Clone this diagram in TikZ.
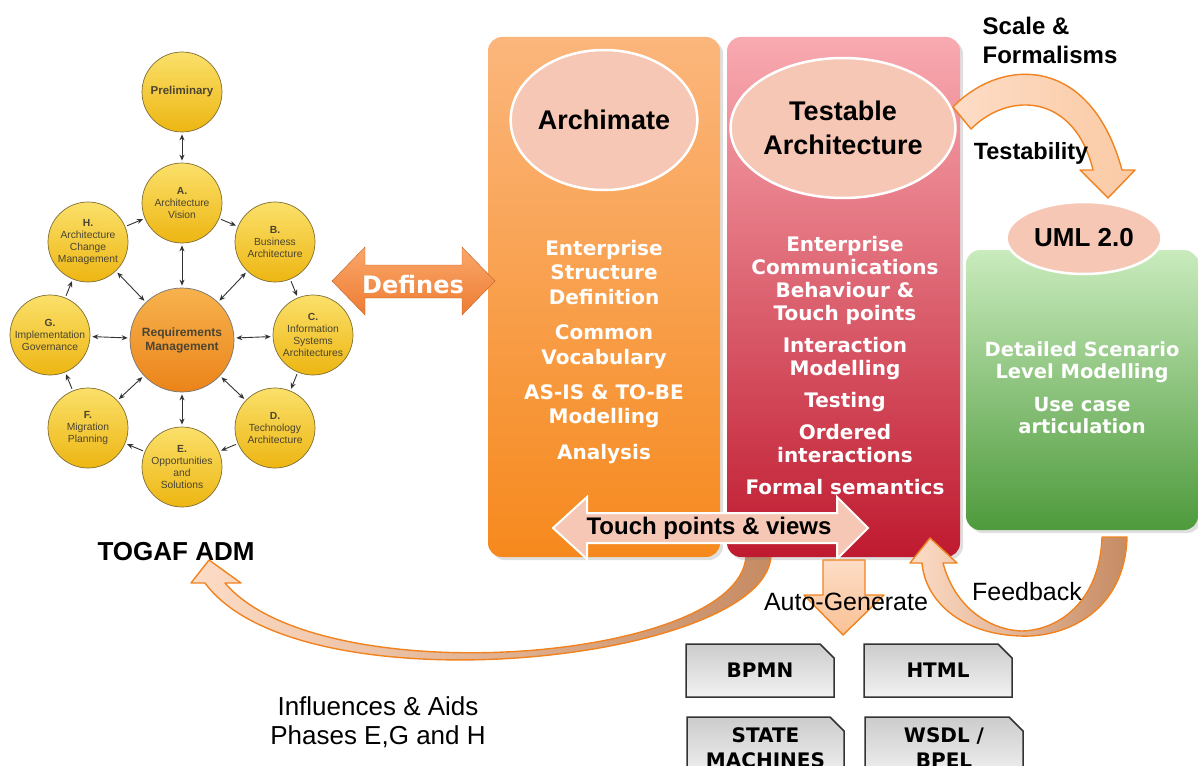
\documentclass[tikz,border=0pt]{standalone}
\usepackage{fontspec}
\setmainfont{Liberation Sans}
\newfontfamily\vfont{DejaVu Sans}
\usetikzlibrary{arrows.meta,shapes.geometric,shapes.misc,shadows}
\definecolor{yellt}{HTML}{FBE06A}
\definecolor{yeldk}{HTML}{EDB612}
\definecolor{yelbd}{HTML}{7E6C34}
\definecolor{rmlt}{HTML}{F7B24E}
\definecolor{rmdk}{HTML}{EB8419}
\definecolor{ortop}{HTML}{FBB67C}
\definecolor{orbot}{HTML}{F6891D}
\definecolor{pktop}{HTML}{F9AAB1}
\definecolor{pkbot}{HTML}{BF1A2F}
\definecolor{grtop}{HTML}{C9EBBD}
\definecolor{grbot}{HTML}{4E9A3C}
\definecolor{peach}{HTML}{F7C7B5}
\definecolor{bandln}{HTML}{F0831F}
\definecolor{bandlt}{HTML}{FDDCC6}
\definecolor{bandtan}{HTML}{C68B63}
\definecolor{defl}{HTML}{FAA76A}
\definecolor{defd}{HTML}{EE7C33}
\definecolor{txtd}{HTML}{4A4430}
\definecolor{docbd}{HTML}{333333}
\begin{document}
\begin{tikzpicture}[x=1pt,y=-1pt,
  phase/.style={circle, minimum size=80, inner sep=0, draw=yelbd, line width=0.7,
    top color=yellt, bottom color=yeldk, align=center, text=txtd,
    font=\fontsize{10.3}{12}\selectfont},
  togarrow/.style={draw=black!80, line width=0.9, shorten >=2, shorten <=2},
  dbl/.style={togarrow, {Stealth[length=6pt,width=5pt]}-{Stealth[length=6pt,width=5pt]}},
  sgl/.style={togarrow, -{Stealth[length=6pt,width=5pt]}},
  column/.style={rectangle, rounded corners=14, inner sep=0,
    drop shadow={opacity=0.25, shadow xshift=3pt, shadow yshift=-3pt}},
  titleell/.style={ellipse, fill=peach, draw=white, line width=2.5, inner sep=0,
    align=center, font=\bfseries\fontsize{27}{33}\selectfont},
  coltext/.style={align=center, text=white, font=\vfont\bfseries\fontsize{20}{24.5}\selectfont},
  band/.style={draw=bandln, line width=1.4, line join=round},
  doc/.style={chamfered rectangle, chamfered rectangle corners=north east,
    chamfered rectangle xsep=7pt, chamfered rectangle ysep=7pt,
    draw=docbd, line width=1.5, top color=black!20, bottom color=black!5,
    inner sep=0, align=center, font=\vfont\bfseries\fontsize{20}{25}\selectfont},
  lbl/.style={font=\fontsize{25}{29}\selectfont, align=center},
  blbl/.style={font=\bfseries\fontsize{24}{29}\selectfont, align=left}
]
\useasboundingbox (0,0) rectangle (1198,765);
\clip (0,0) rectangle (1198,765);

% ---------- TOGAF ADM ----------
\node[phase, font=\bfseries\fontsize{11.5}{13}\selectfont] (pre) at (182,92) {Preliminary};
\node[phase] (A) at (182,203) {\textbf{A.}\\Architecture\\Vision};
\node[phase] (B) at (275,242) {\textbf{B.}\\Business\\Architecture};
\node[phase] (C) at (313,335) {\textbf{C.}\\Information\\Systems\\Architectures};
\node[phase] (D) at (275,428) {\textbf{D.}\\Technology\\Architecture};
\node[phase] (E) at (182,467) {\textbf{E.}\\Opportunities\\and\\Solutions};
\node[phase] (F) at (88,428) {\textbf{F.}\\Migration\\Planning};
\node[phase] (G) at (50,335) {\textbf{G.}\\Implementation\\Governance};
\node[phase] (H) at (88,242) {\textbf{H.}\\Architecture\\Change\\Management};
\node[phase, minimum size=104, top color=rmlt, bottom color=rmdk, draw=black!55,
  font=\bfseries\fontsize{12}{14}\selectfont] (RM) at (182,340) {Requirements\\Management};

\draw[dbl] (pre) -- (A);
\foreach \p in {A,B,C,D,E,F,G,H} \draw[dbl] (RM) -- (\p);
\draw[sgl] (A) -- (B);
\draw[sgl] (B) -- (C);
\draw[sgl] (C) -- (D);
\draw[sgl] (D) -- (E);
\draw[sgl] (E) -- (F);
\draw[sgl] (F) -- (G);
\draw[sgl] (G) -- (H);
\draw[sgl] (H) -- (A);

\node[font=\bfseries\fontsize{26}{30}\selectfont] (togaf) at (176,552) {TOGAF ADM};

% ---------- Influences arrow (behind columns) ----------
\draw[band, left color=bandlt, right color=bandtan]
  (771,556) .. controls (765,662) and (300,712) .. (205,583)
  -- (191,583) -- (209,560) -- (241,583) -- (225,583)
  .. controls (320,695) and (740,662) .. (746,556) -- cycle;

% ---------- Columns ----------
\node[column, minimum width=232, minimum height=520, top color=ortop, bottom color=orbot] (arch) at (604,297) {};
\node[column, minimum width=233, minimum height=520, top color=pktop, bottom color=pkbot] (test) at (843.5,297) {};
\node[column, minimum width=232, minimum height=280, top color=grtop, bottom color=grbot] (uml) at (1082,390) {};

\node[titleell, minimum width=176, minimum height=140] (archT) at (604,120) {Archimate};
\node[titleell, minimum width=180, minimum height=140] (testT) at (843,128) {Testable\\[1pt]Architecture};
\node[titleell, minimum width=155, minimum height=72, font=\bfseries\fontsize{26}{30}\selectfont] (umlT) at (1084,238) {UML 2.0};

\node[coltext] (archX) at (604,352) {Enterprise\\Structure\\Definition\\[11pt]Common\\Vocabulary\\[10.5pt]AS-IS \& TO-BE\\Modelling\\[11.5pt]Analysis};
\node[coltext, font=\vfont\bfseries\fontsize{20}{23}\selectfont] (testX) at (845,366) {Enterprise\\Communications\\Behaviour \&\\Touch points\\[9pt]Interaction\\Modelling\\[9pt]Testing\\[9pt]Ordered\\interactions\\[9pt]Formal semantics};
\node[coltext, font=\vfont\bfseries\fontsize{19.5}{22}\selectfont] (umlX) at (1082,388) {Detailed Scenario\\Level Modelling\\[11pt]Use case\\articulation};

% ---------- Touch points & views ----------
\draw[draw=white, line width=2, fill=peach]
  (553,528) -- (587,497) -- (587,513) -- (837,513) -- (837,497) -- (868,528)
  -- (837,559) -- (837,543) -- (587,543) -- (587,559) -- cycle;
\node[font=\bfseries\fontsize{24}{28}\selectfont] (touch) at (709,528) {Touch points \& views};

% ---------- Defines ----------
\draw[draw=defd!80!black, line width=0.4, top color=defl, bottom color=defd]
  (332,281) -- (365,247) -- (365,265) -- (462,265) -- (462,247) -- (495,281)
  -- (462,315) -- (462,298) -- (365,298) -- (365,315) -- cycle;
\node[text=white, font=\vfont\bfseries\fontsize{24}{28}\selectfont] (def) at (413,285) {Defines};

% ---------- Scale & Formalisms arrow ----------
\draw[band, left color=bandlt, right color=bandlt!80!bandln]
  (953,107) .. controls (1000,58) and (1090,53) .. (1122,170)
  -- (1135,170) -- (1108,198) -- (1080,170) -- (1093,170)
  .. controls (1075,95) and (1010,90) .. (971,129) -- cycle;
\node[blbl] (scale) at (1050,40.5) {Scale \&\\Formalisms};
\node[font=\bfseries\fontsize{23.5}{28}\selectfont] (testab) at (1031,153) {Testability};

% ---------- Feedback arrow ----------
\draw[band, left color=bandlt, right color=bandtan]
  (1127,537) .. controls (1125,612) and (1065,638) .. (1020,636)
  .. controls (960,634) and (925,600) .. (922,563)
  -- (910,563) -- (930,538) -- (957,563) -- (943,563)
  .. controls (955,608) and (990,630) .. (1022,631)
  .. controls (1060,630) and (1100,600) .. (1102,537) -- cycle;
\node[lbl] (fb) at (1027,592) {Feedback};

% ---------- Auto-Generate ----------
\draw[band, top color=bandlt, bottom color=bandlt!70!bandln]
  (823,560) -- (865,560) -- (865,595) -- (884,595) -- (843,635) -- (804,595) -- (823,595) -- cycle;
\node[lbl] (auto) at (846,602) {Auto-Generate};

% ---------- Documents ----------
\node[doc, minimum width=148, minimum height=53] (bpmn) at (760,670.5) {BPMN};
\node[doc, minimum width=148, minimum height=53] (html) at (938,670.5) {HTML};
\node[doc, minimum width=157, minimum height=62] (sm) at (765.5,748) {STATE\\MACHINES};
\node[doc, minimum width=158, minimum height=62] (wsdl) at (944,748) {WSDL /\\BPEL};

% ---------- Influences label ----------
\node[font=\fontsize{26}{29}\selectfont, align=center] (infl) at (378,722.5) {Influences \& Aids\\Phases E,G and H};
\end{tikzpicture}
\end{document}
